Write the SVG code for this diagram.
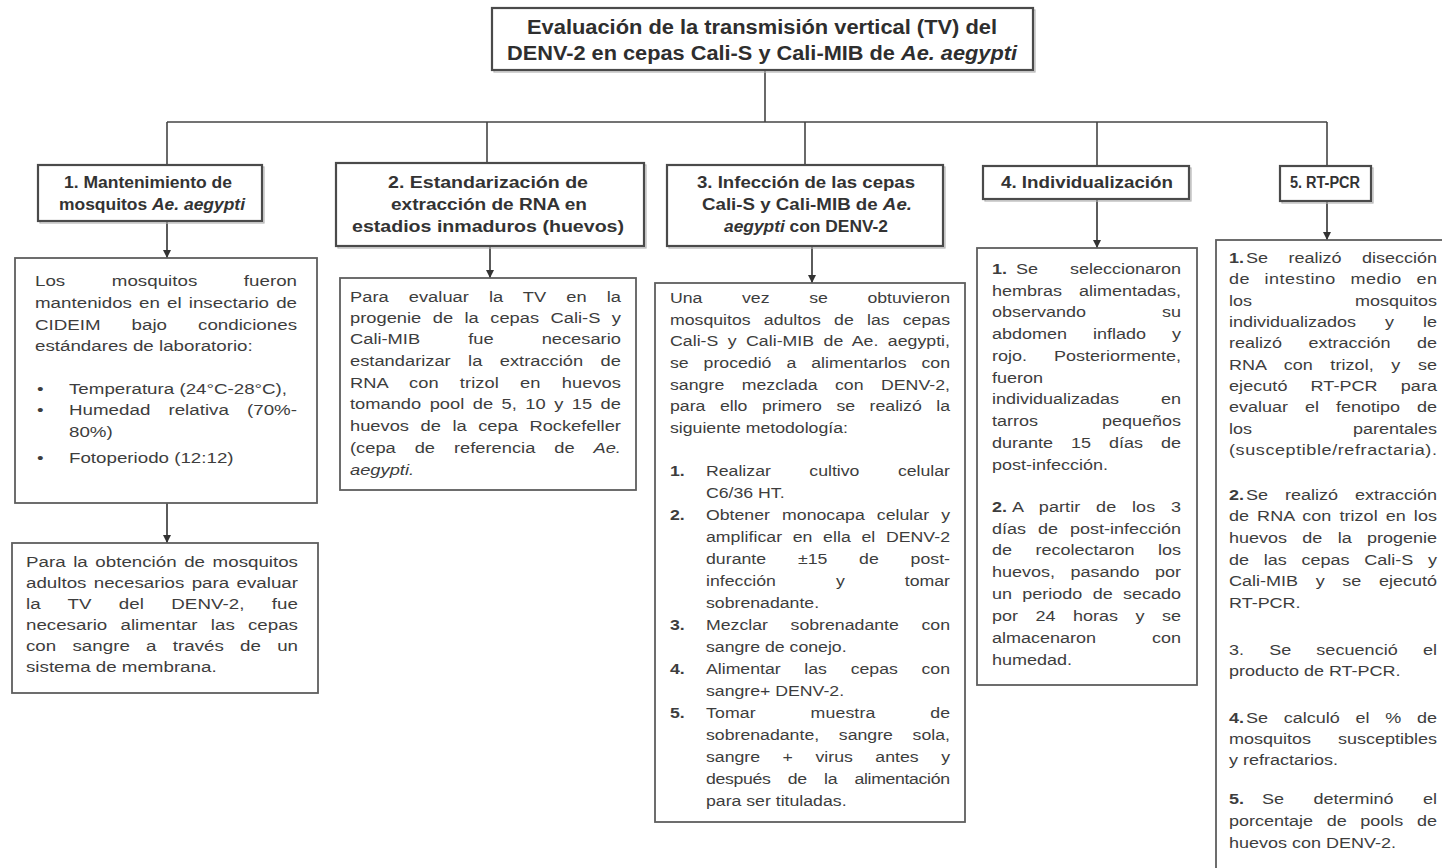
<svg xmlns="http://www.w3.org/2000/svg" width="1442" height="868" viewBox="0 0 1442 868">
<defs>
<marker id="ah" viewBox="0 0 10 10" refX="10" refY="5" markerWidth="8" markerHeight="8" markerUnits="userSpaceOnUse" orient="auto">
<path d="M0,0 L10,5 L0,10 z" fill="#333"/>
</marker>
</defs>
<style>
.box{fill:#fff;stroke:#5e5e5e;stroke-width:1.8}
.hbox{fill:#fff;stroke:#4a4a4a;stroke-width:2.2}
.sh{fill:none;stroke:#b5b5b5;stroke-width:1.2}
.ln{stroke:#444;stroke-width:1.6;fill:none}
.ar{stroke:#333;stroke-width:1.6;fill:none;marker-end:url(#ah)}
.t{font-family:"Liberation Sans",Arial,sans-serif;font-size:15px;fill:#3d3d3d}
.h{font-family:"Liberation Sans",Arial,sans-serif;font-size:16px;font-weight:bold;fill:#333;text-anchor:middle}
.ti{font-family:"Liberation Sans",Arial,sans-serif;font-size:20px;font-weight:bold;fill:#2e2e2e;text-anchor:middle}
.b{font-weight:bold}
.i{font-style:italic}
</style>
<rect width="1442" height="868" fill="#fff"/>

<g id="connectors">
<line class="ln" x1="765" y1="70" x2="765" y2="122"/>
<line class="ln" x1="167" y1="122" x2="1327" y2="122"/>
<line class="ln" x1="167" y1="122" x2="167" y2="165"/>
<line class="ln" x1="487" y1="122" x2="487" y2="163"/>
<line class="ln" x1="805" y1="122" x2="805" y2="165"/>
<line class="ln" x1="1097" y1="122" x2="1097" y2="166"/>
<line class="ln" x1="1327" y1="122" x2="1327" y2="166"/>
<line class="ar" x1="167" y1="221" x2="167" y2="258"/>
<line class="ar" x1="167" y1="503" x2="167" y2="543"/>
<line class="ar" x1="490" y1="246" x2="490" y2="278"/>
<line class="ar" x1="812" y1="246" x2="812" y2="283"/>
<line class="ar" x1="1097" y1="199" x2="1097" y2="248"/>
<line class="ar" x1="1327" y1="201" x2="1327" y2="240"/>
</g>

<g id="title">
<rect class="sh" x="494" y="10" width="541" height="62"/>
<rect class="hbox" x="492" y="8" width="541" height="62"/>
<text class="ti" x="762" y="34" textLength="470" lengthAdjust="spacingAndGlyphs">Evaluación de la transmisión vertical (TV) del</text>
<text class="ti" x="762" y="60" textLength="510" lengthAdjust="spacingAndGlyphs">DENV-2 en cepas Cali-S y Cali-MIB de <tspan class="i">Ae. aegypti</tspan></text>
</g>

<g id="h1">
<rect class="sh" x="40" y="167" width="224" height="56"/>
<rect class="hbox" x="38" y="165" width="224" height="56"/>
<text class="h" x="148" y="188" textLength="168" lengthAdjust="spacingAndGlyphs">1. Mantenimiento de</text>
<text class="h" x="152" y="210" textLength="186" lengthAdjust="spacingAndGlyphs">mosquitos <tspan class="i">Ae. aegypti</tspan></text>
</g>
<g id="h2">
<rect class="sh" x="338" y="165" width="308" height="83"/>
<rect class="hbox" x="336" y="163" width="308" height="83"/>
<text class="h" x="488" y="188" textLength="200" lengthAdjust="spacingAndGlyphs">2. Estandarización de</text>
<text class="h" x="489" y="210" textLength="196" lengthAdjust="spacingAndGlyphs">extracción de RNA en</text>
<text class="h" x="488" y="232" textLength="272" lengthAdjust="spacingAndGlyphs">estadios inmaduros (huevos)</text>
</g>
<g id="h3">
<rect class="sh" x="669" y="167" width="276" height="81"/>
<rect class="hbox" x="667" y="165" width="276" height="81"/>
<text class="h" x="806" y="188" textLength="218" lengthAdjust="spacingAndGlyphs">3. Infección de las cepas</text>
<text class="h" x="807" y="210" textLength="210" lengthAdjust="spacingAndGlyphs">Cali-S y Cali-MIB de <tspan class="i">Ae.</tspan></text>
<text class="h" x="806" y="232" textLength="164" lengthAdjust="spacingAndGlyphs"><tspan class="i">aegypti</tspan> con DENV-2</text>
</g>
<g id="h4">
<rect class="sh" x="985" y="168" width="206" height="33"/>
<rect class="hbox" x="983" y="166" width="206" height="33"/>
<text class="h" x="1087" y="188" textLength="172" lengthAdjust="spacingAndGlyphs">4. Individualización</text>
</g>
<g id="h5">
<rect class="sh" x="1282" y="168" width="91" height="35"/>
<rect class="hbox" x="1280" y="166" width="91" height="35"/>
<text class="h" x="1325" y="188" textLength="70" lengthAdjust="spacingAndGlyphs">5. RT-PCR</text>
</g>

<g id="b1">
<rect class="box" x="15" y="258" width="302" height="245"/>
<g transform="translate(35 0) scale(1.25 1)">
<text class="t" x="0" y="286" word-spacing="33.1" textLength="209.6" lengthAdjust="spacing">Los mosquitos fueron</text>
<text class="t" x="0" y="308" word-spacing="1.5" textLength="209.6" lengthAdjust="spacing">mantenidos en el insectario de</text>
<text class="t" x="0" y="330" word-spacing="20.6" textLength="209.6" lengthAdjust="spacing">CIDEIM bajo condiciones</text>
<text class="t" x="0" y="351">estándares de laboratorio:</text>
<text class="t" x="1.6" y="394">•</text>
<text class="t" x="27.2" y="394">Temperatura (24°C-28°C),</text>
<text class="t" x="1.6" y="415">•</text>
<text class="t" x="27.2" y="415" word-spacing="10.3" textLength="182.4" lengthAdjust="spacing">Humedad relativa (70%-</text>
<text class="t" x="27.2" y="437">80%)</text>
<text class="t" x="1.6" y="463">•</text>
<text class="t" x="27.2" y="463">Fotoperiodo (12:12)</text>
</g>
</g>

<g id="b1b">
<rect class="box" x="12" y="543" width="306" height="150"/>
<g transform="translate(26 0) scale(1.25 1)">
<text class="t" x="0" y="567" word-spacing="1.9" textLength="217.6" lengthAdjust="spacing">Para la obtención de mosquitos</text>
<text class="t" x="0" y="588" word-spacing="1.7" textLength="217.6" lengthAdjust="spacing">adultos necesarios para evaluar</text>
<text class="t" x="0" y="609" word-spacing="17.5" textLength="217.6" lengthAdjust="spacing">la TV del DENV-2, fue</text>
<text class="t" x="0" y="630" word-spacing="6.4" textLength="217.6" lengthAdjust="spacing">necesario alimentar las cepas</text>
<text class="t" x="0" y="651" word-spacing="8.8" textLength="217.6" lengthAdjust="spacing">con sangre a través de un</text>
<text class="t" x="0" y="672">sistema de membrana.</text>
</g>
</g>

<g id="b2">
<rect class="box" x="340" y="278" width="296" height="212"/>
<g transform="translate(350 0) scale(1.22 1)">
<text class="t" x="0" y="302" word-spacing="12.2" textLength="222.1" lengthAdjust="spacing">Para evaluar la TV en la</text>
<text class="t" x="0" y="323" word-spacing="5.2" textLength="222.1" lengthAdjust="spacing">progenie de la cepas Cali-S y</text>
<text class="t" x="0" y="344" word-spacing="35.2" textLength="222.1" lengthAdjust="spacing">Cali-MIB fue necesario</text>
<text class="t" x="0" y="366" word-spacing="10.1" textLength="222.1" lengthAdjust="spacing">estandarizar la extracción de</text>
<text class="t" x="0" y="388" word-spacing="13.2" textLength="222.1" lengthAdjust="spacing">RNA con trizol en huevos</text>
<text class="t" x="0" y="409" word-spacing="2.8" textLength="222.1" lengthAdjust="spacing">tomando pool de 5, 10 y 15 de</text>
<text class="t" x="0" y="431" word-spacing="5.3" textLength="222.1" lengthAdjust="spacing">huevos de la cepa Rockefeller</text>
<text class="t" x="0" y="453" word-spacing="11.3" textLength="222.1" lengthAdjust="spacing">(cepa de referencia de <tspan class="i">Ae.</tspan></text>
<text class="t i" x="0" y="475">aegypti.</text>
</g>
</g>

<g id="b3">
<rect class="box" x="655" y="283" width="310" height="539"/>
<g transform="translate(670 0) scale(1.18 1)">
<text class="t" x="0" y="303" word-spacing="29.4" textLength="237.3" lengthAdjust="spacing">Una vez se obtuvieron</text>
<text class="t" x="0" y="325" word-spacing="7" textLength="237.3" lengthAdjust="spacing">mosquitos adultos de las cepas</text>
<text class="t" x="0" y="346" word-spacing="3.8" textLength="237.3" lengthAdjust="spacing">Cali-S y Cali-MIB de Ae. aegypti,</text>
<text class="t" x="0" y="368" word-spacing="8.5" textLength="237.3" lengthAdjust="spacing">se procedió a alimentarlos con</text>
<text class="t" x="0" y="390" word-spacing="10.5" textLength="237.3" lengthAdjust="spacing">sangre mezclada con DENV-2,</text>
<text class="t" x="0" y="411" word-spacing="8.1" textLength="237.3" lengthAdjust="spacing">para ello primero se realizó la</text>
<text class="t" x="0" y="433">siguiente metodología:</text>
<text class="t b" x="0" y="476">1.</text>
<text class="t" x="30.5" y="476" word-spacing="28.4" textLength="206.8" lengthAdjust="spacing">Realizar cultivo celular</text>
<text class="t" x="30.5" y="498">C6/36 HT.</text>
<text class="t b" x="0" y="520">2.</text>
<text class="t" x="30.5" y="520" word-spacing="6.1" textLength="206.8" lengthAdjust="spacing">Obtener monocapa celular y</text>
<text class="t" x="30.5" y="542" word-spacing="4.8" textLength="206.8" lengthAdjust="spacing">amplificar en ella el DENV-2</text>
<text class="t" x="30.5" y="564" word-spacing="22.7" textLength="206.8" lengthAdjust="spacing">durante ±15 de post-</text>
<text class="t" x="30.5" y="586" word-spacing="46.7" textLength="206.8" lengthAdjust="spacing">infección y tomar</text>
<text class="t" x="30.5" y="608">sobrenadante.</text>
<text class="t b" x="0" y="630">3.</text>
<text class="t" x="30.5" y="630" word-spacing="15" textLength="206.8" lengthAdjust="spacing">Mezclar sobrenadante con</text>
<text class="t" x="30.5" y="652">sangre de conejo.</text>
<text class="t b" x="0" y="674">4.</text>
<text class="t" x="30.5" y="674" word-spacing="15.9" textLength="206.8" lengthAdjust="spacing">Alimentar las cepas con</text>
<text class="t" x="30.5" y="696">sangre+ DENV-2.</text>
<text class="t b" x="0" y="718">5.</text>
<text class="t" x="30.5" y="718" word-spacing="42.1" textLength="206.8" lengthAdjust="spacing">Tomar muestra de</text>
<text class="t" x="30.5" y="740" word-spacing="12.5" textLength="206.8" lengthAdjust="spacing">sobrenadante, sangre sola,</text>
<text class="t" x="30.5" y="762" word-spacing="14.9" textLength="206.8" lengthAdjust="spacing">sangre + virus antes y</text>
<text class="t" x="30.5" y="784" word-spacing="10.8" textLength="206.8" lengthAdjust="spacing">después de la alimentación</text>
<text class="t" x="30.5" y="806">para ser tituladas.</text>
</g>
</g>

<g id="b4">
<rect class="box" x="977" y="248" width="220" height="437"/>
<g transform="translate(992 0) scale(1.2 1)">
<text class="t b" x="0" y="274">1.</text>
<text class="t" x="20" y="274" word-spacing="22.5" textLength="137.5" lengthAdjust="spacing">Se seleccionaron</text>
<text class="t" x="0" y="296" word-spacing="9.9" textLength="157.5" lengthAdjust="spacing">hembras alimentadas,</text>
<text class="t" x="0" y="317" word-spacing="59.1" textLength="157.5" lengthAdjust="spacing">observando su</text>
<text class="t" x="0" y="339" word-spacing="17.5" textLength="157.5" lengthAdjust="spacing">abdomen inflado y</text>
<text class="t" x="0" y="361" word-spacing="18.3" textLength="157.5" lengthAdjust="spacing">rojo. Posteriormente,</text>
<text class="t" x="0" y="383">fueron</text>
<text class="t" x="0" y="404" word-spacing="30.8" textLength="157.5" lengthAdjust="spacing">individualizadas en</text>
<text class="t" x="0" y="426" word-spacing="49.1" textLength="157.5" lengthAdjust="spacing">tarros pequeños</text>
<text class="t" x="0" y="448" word-spacing="10.8" textLength="157.5" lengthAdjust="spacing">durante 15 días de</text>
<text class="t" x="0" y="470">post-infección.</text>
<text class="t b" x="0" y="512">2.</text>
<text class="t" x="16.7" y="512" word-spacing="8.9" textLength="140.8" lengthAdjust="spacing">A partir de los 3</text>
<text class="t" x="0" y="534" word-spacing="5.8" textLength="157.5" lengthAdjust="spacing">días de post-infección</text>
<text class="t" x="0" y="555" word-spacing="15.4" textLength="157.5" lengthAdjust="spacing">de recolectaron los</text>
<text class="t" x="0" y="577" word-spacing="8.7" textLength="157.5" lengthAdjust="spacing">huevos, pasando por</text>
<text class="t" x="0" y="599" word-spacing="4.4" textLength="157.5" lengthAdjust="spacing">un periodo de secado</text>
<text class="t" x="0" y="621" word-spacing="10.4" textLength="157.5" lengthAdjust="spacing">por 24 horas y se</text>
<text class="t" x="0" y="643" word-spacing="42.5" textLength="157.5" lengthAdjust="spacing">almacenaron con</text>
<text class="t" x="0" y="665">humedad.</text>
</g>
</g>

<g id="b5">
<rect class="box" x="1216" y="240" width="300" height="700"/>
<g transform="translate(1229 0) scale(1.2 1)">
<text class="t b" x="0" y="263">1.</text>
<text class="t" x="14.2" y="263" word-spacing="12.9" textLength="159.2" lengthAdjust="spacing">Se realizó disección</text>
<text class="t" x="0" y="284" word-spacing="7.7" textLength="173.3" lengthAdjust="spacing">de intestino medio en</text>
<text class="t" x="0" y="306" word-spacing="81.6" textLength="173.3" lengthAdjust="spacing">los mosquitos</text>
<text class="t" x="0" y="327" word-spacing="20" textLength="173.3" lengthAdjust="spacing">individualizados y le</text>
<text class="t" x="0" y="348" word-spacing="17.9" textLength="173.3" lengthAdjust="spacing">realizó extracción de</text>
<text class="t" x="0" y="370" word-spacing="10.4" textLength="173.3" lengthAdjust="spacing">RNA con trizol, y se</text>
<text class="t" x="0" y="391" word-spacing="15" textLength="173.3" lengthAdjust="spacing">ejecutó RT-PCR para</text>
<text class="t" x="0" y="412" word-spacing="10" textLength="173.3" lengthAdjust="spacing">evaluar el fenotipo de</text>
<text class="t" x="0" y="434" word-spacing="79.9" textLength="173.3" lengthAdjust="spacing">los parentales</text>
<text class="t" x="0" y="455" textLength="173.3" lengthAdjust="spacing">(susceptible/refractaria).</text>
<text class="t b" x="0" y="500">2.</text>
<text class="t" x="14.2" y="500" word-spacing="10" textLength="159.2" lengthAdjust="spacing">Se realizó extracción</text>
<text class="t" x="0" y="521" word-spacing="2.5" textLength="173.3" lengthAdjust="spacing">de RNA con trizol en los</text>
<text class="t" x="0" y="543" word-spacing="8.6" textLength="173.3" lengthAdjust="spacing">huevos de la progenie</text>
<text class="t" x="0" y="565" word-spacing="8.1" textLength="173.3" lengthAdjust="spacing">de las cepas Cali-S y</text>
<text class="t" x="0" y="586" word-spacing="10.5" textLength="173.3" lengthAdjust="spacing">Cali-MIB y se ejecutó</text>
<text class="t" x="0" y="608">RT-PCR.</text>
<text class="t" x="0" y="655" word-spacing="16.6" textLength="173.3" lengthAdjust="spacing">3. Se secuenció el</text>
<text class="t" x="0" y="676">producto de RT-PCR.</text>
<text class="t b" x="0" y="723">4.</text>
<text class="t" x="14.2" y="723" word-spacing="9" textLength="159.2" lengthAdjust="spacing">Se calculó el % de</text>
<text class="t" x="0" y="744" word-spacing="18.3" textLength="173.3" lengthAdjust="spacing">mosquitos susceptibles</text>
<text class="t" x="0" y="765">y refractarios.</text>
<text class="t b" x="0" y="804">5.</text>
<text class="t" x="27.5" y="804" word-spacing="20.4" textLength="145.8" lengthAdjust="spacing">Se determinó el</text>
<text class="t" x="0" y="826" word-spacing="7.2" textLength="173.3" lengthAdjust="spacing">porcentaje de pools de</text>
<text class="t" x="0" y="848">huevos con DENV-2.</text>
</g>
</g>
</svg>
